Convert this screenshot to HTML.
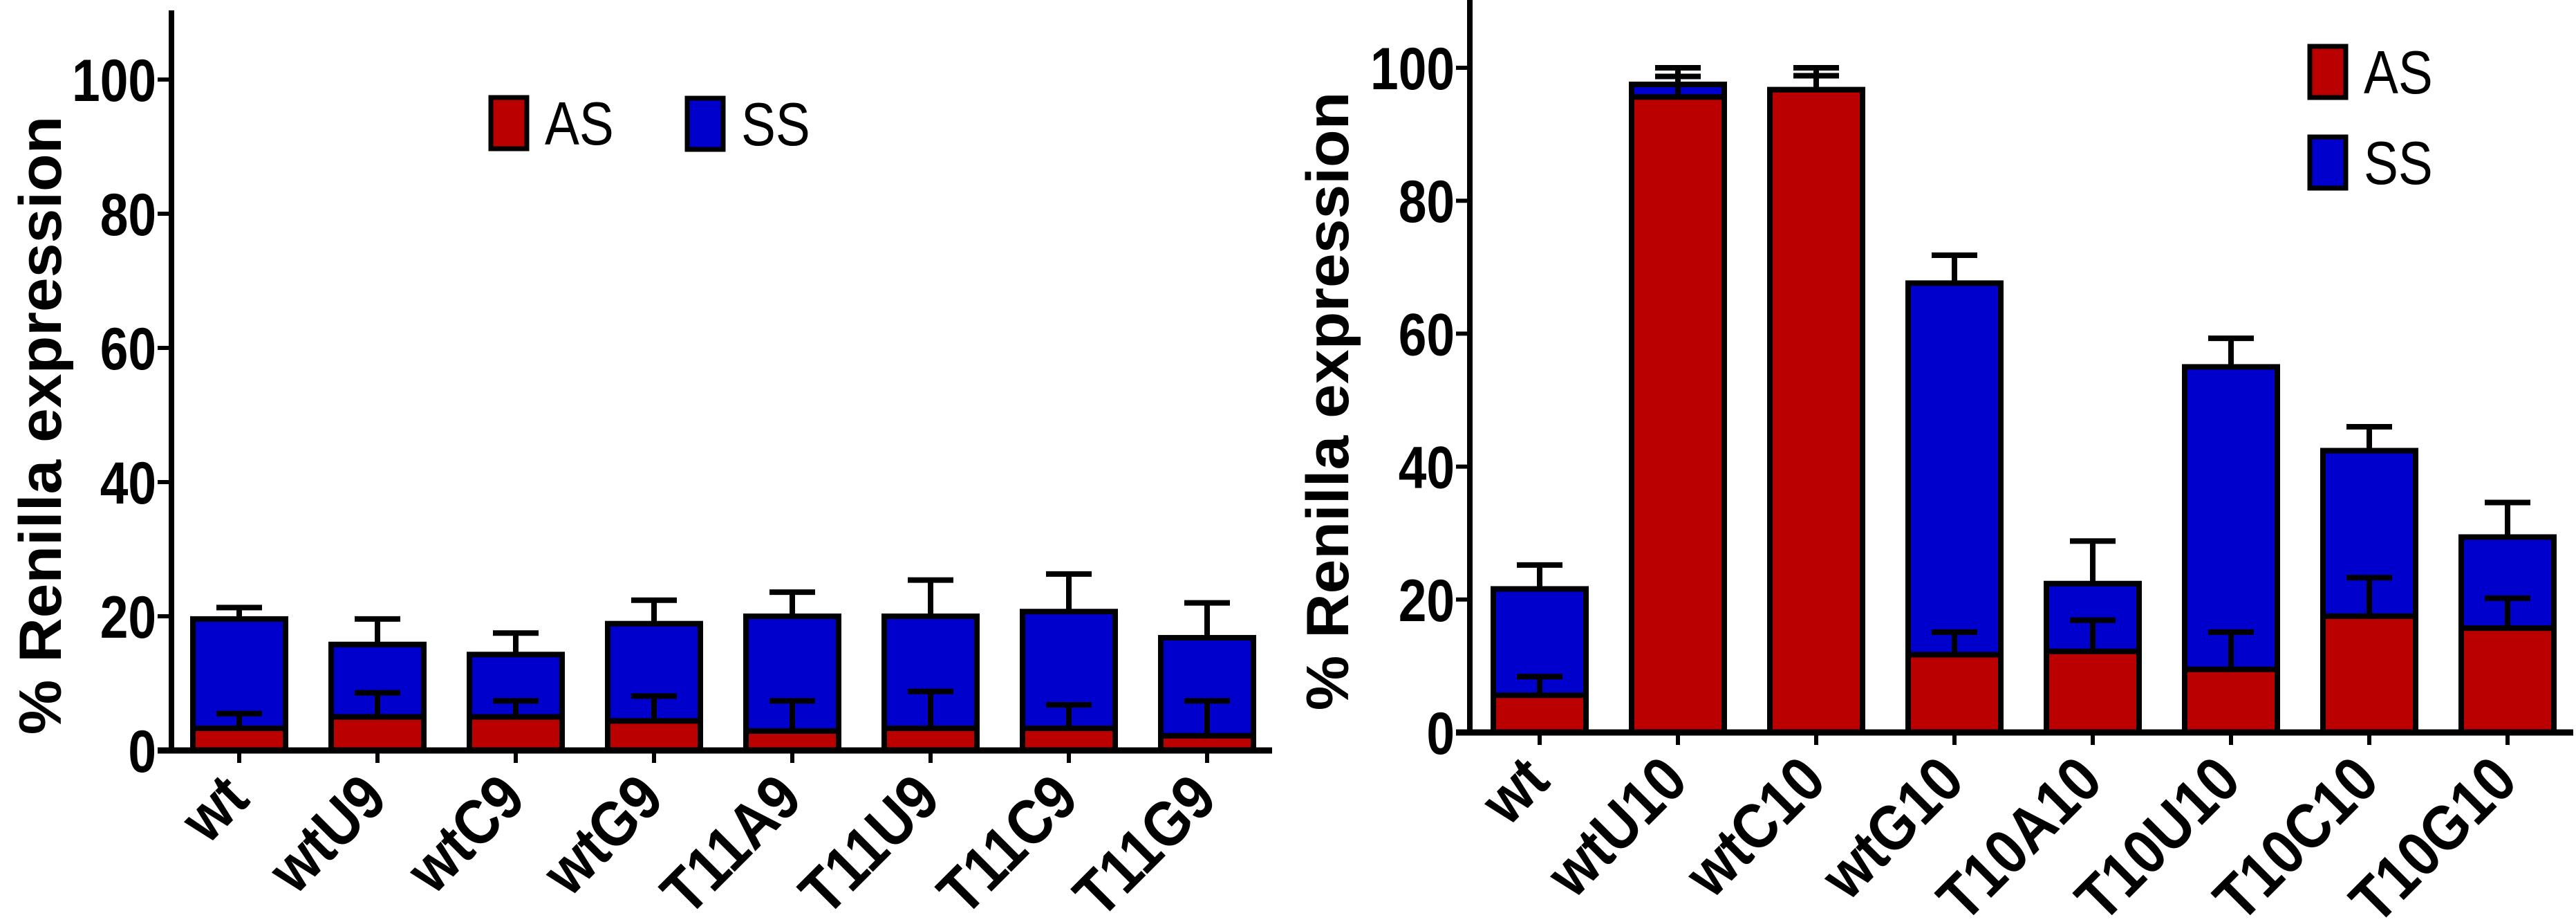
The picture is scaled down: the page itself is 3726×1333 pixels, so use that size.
<!DOCTYPE html>
<html><head><meta charset="utf-8"><style>
html,body{margin:0;padding:0;background:#fff;}
svg{display:block;font-family:"Liberation Sans",sans-serif;}
</style></head><body>
<svg id="chart" width="3726" height="1333" viewBox="0 0 3726 1333" xmlns="http://www.w3.org/2000/svg"></svg>
<script>
const leftCategories = ["wt","wtU9","wtC9","wtG9","T11A9","T11U9","T11C9","T11G9"];
const leftAS = [3.3,5.0,5.0,4.4,2.9,3.3,3.3,2.2];
const leftTotal = [19.6,15.8,14.3,18.9,20.0,20.0,20.7,16.8];
const leftASErr = [5.5,8.6,7.4,8.1,7.4,8.8,6.8,7.4];
const leftTotalErr = [21.3,19.6,17.5,22.4,23.6,25.4,26.3,22.0];

const rightCategories = ["wt","wtU10","wtC10","wtG10","T10A10","T10U10","T10C10","T10G10"];
const rightAS = [5.6,95.6,96.7,11.7,12.2,9.5,17.5,15.7];
const rightTotal = [21.6,97.5,96.7,67.6,22.4,55.0,42.4,29.4];
const rightASErr = [8.4,98.7,98.8,15.1,16.9,15.1,23.3,20.2];
const rightTotalErr = [25.2,100,100,71.8,28.8,59.3,46.0,34.6];

const yTicks = [0,20,40,60,80,100];

const NS="http://www.w3.org/2000/svg";
const svg=document.getElementById('chart');
function mk(tag,attrs,parent){const e=document.createElementNS(NS,tag);for(const k in attrs)e.setAttribute(k,attrs[k]);(parent||svg).appendChild(e);return e;}

function drawPanel(p){
  const g=mk('g',{});
  
  
  const y=v=>p.y0-v*p.k;
  const x=i=>p.x0c+i*p.step;
  const bw=134;
  p.cats.forEach((c,i)=>{
    const cx=x(i);
    const ss=mk('rect',{x:cx-bw/2,y:y(p.total[i]),width:bw,height:y(0)-y(p.total[i]),fill:'#0000CC',stroke:'#000','stroke-width':8},g);
    
    
    const as=mk('rect',{x:cx-bw/2,y:y(p.as[i]),width:bw,height:y(0)-y(p.as[i]),fill:'#BB0000',stroke:'#000','stroke-width':8},g);
    
    
    [[p.total[i],p.totalErr[i],'error-ss-'],[p.as[i],p.asErr[i],'error-as-']].forEach(([v,e,n])=>{
      const eg=mk('path',{d:`M${cx},${y(v)}V${y(e)}M${cx-33},${y(e)}H${cx+33}`,stroke:'#000','stroke-width':8,fill:'none'},g);
      
      
    });
    const tk=mk('line',{x1:cx,y1:y(0),x2:cx,y2:y(0)+18,stroke:'#000','stroke-width':6},g);
    
    
    const lx=cx+18, ly=y(0)+74;
    const t=mk('text',{x:0,y:0,'text-anchor':'end','font-size':92,'font-weight':'bold',transform:`translate(${lx} ${ly}) rotate(-45) scale(0.88 1)`},g);
    t.textContent=c;
    
    
  });
  const ya=mk('line',{x1:p.ax,y1:p.top,x2:p.ax,y2:y(0)+4,stroke:'#000','stroke-width':8},g);
  
  
  const xa=mk('line',{x1:p.ax-20,y1:y(0),x2:p.xend,y2:y(0),stroke:'#000','stroke-width':9},g);
  
  
  yTicks.forEach(v=>{
    const l=mk('line',{x1:p.ax-20,y1:y(v),x2:p.ax,y2:y(v),stroke:'#000','stroke-width':6},g);
    
    
    const t=mk('text',{x:0,y:0,'text-anchor':'end','font-size':86,'font-weight':'bold',transform:`translate(${p.ax-22} ${y(v)+31}) scale(0.85 1)`},g);
    t.textContent=v;
    
    
  });
  const tt=mk('text',{x:0,y:0,'text-anchor':'middle','font-size':86,'font-weight':'bold',transform:`translate(${p.titleX} ${p.titleY}) rotate(-90) scale(1.04 1)`},g);
  tt.textContent='% Renilla expression';
  
  
  p.legend.forEach(L=>{
    const r=mk('rect',{x:L.x,y:L.y,width:52,height:74,fill:L.c,stroke:'#000','stroke-width':7},g);
    
    
    const t=mk('text',{x:0,y:0,'font-size':88,transform:`translate(${L.x+78} ${L.y+68}) scale(0.85 1)`},g);
    t.textContent=L.t;
    
    
  });
}

drawPanel({name:'left-panel',cats:leftCategories,as:leftAS,total:leftTotal,asErr:leftASErr,totalErr:leftTotalErr,
  y0:1085,k:9.7,x0c:346,step:200,ax:248,top:15,xend:1840,titleX:88,titleY:615,
  legend:[{x:710,y:141,c:'#BB0000',t:'AS'},{x:994,y:142,c:'#0000CC',t:'SS'}]});
drawPanel({name:'right-panel',cats:rightCategories,as:rightAS,total:rightTotal,asErr:rightASErr,totalErr:rightTotalErr,
  y0:1059,k:9.61,x0c:2227,step:200,ax:2126,top:0,xend:3722,titleX:1950,titleY:580,
  legend:[{x:3341,y:67,c:'#BB0000',t:'AS'},{x:3341,y:198,c:'#0000CC',t:'SS'}]});
</script>
</body></html>
